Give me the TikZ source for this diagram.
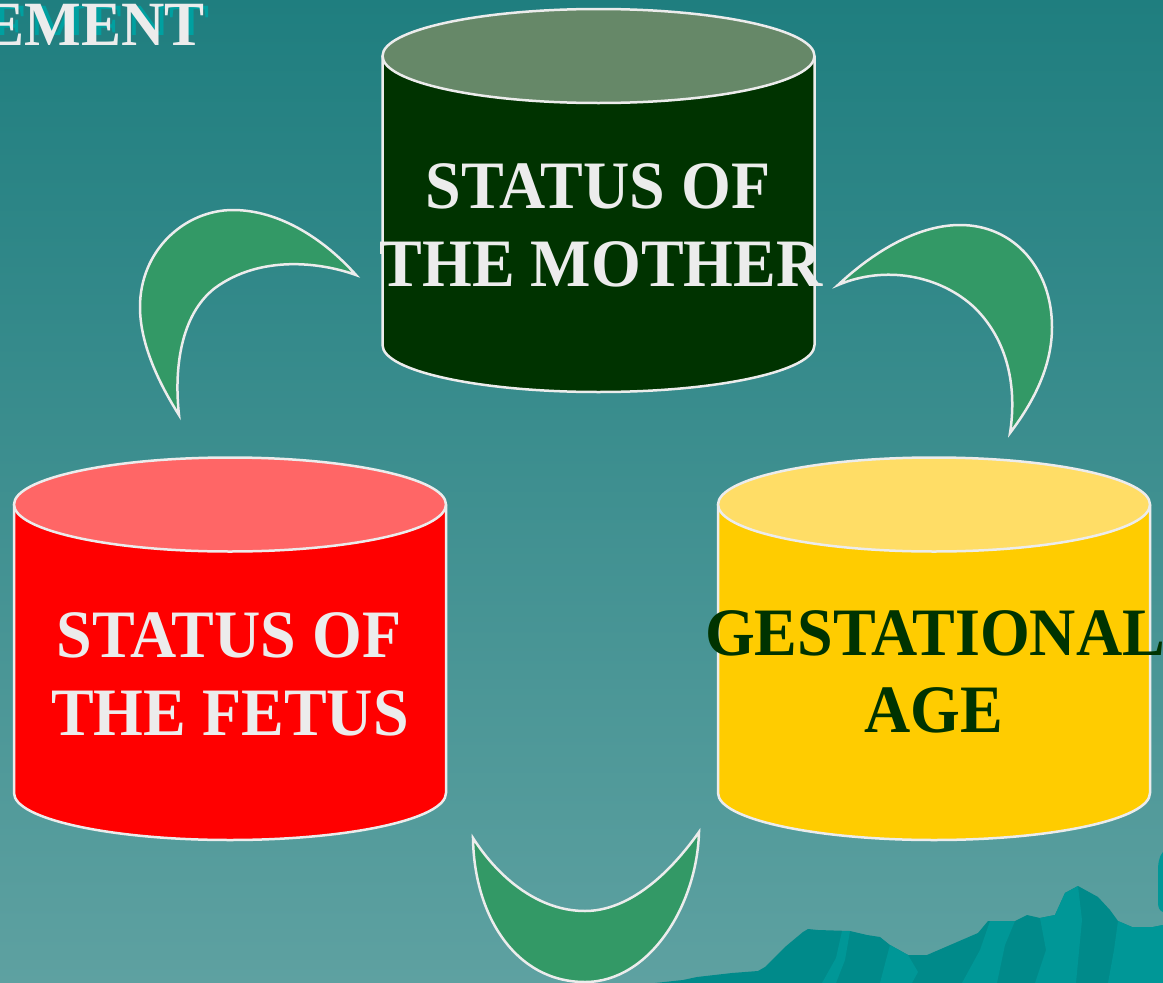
\documentclass[tikz,border=0pt]{standalone}
\usepackage{fontspec}
\setmainfont{Liberation Serif}
\definecolor{edge}{RGB}{236,236,236}
\definecolor{txtw}{RGB}{236,236,236}
\definecolor{dgreen}{RGB}{0,51,0}
\definecolor{mtop}{RGB}{102,136,104}
\definecolor{ftop}{RGB}{255,102,102}
\definecolor{fbody}{RGB}{255,0,0}
\definecolor{gtop}{RGB}{255,221,102}
\definecolor{gbody}{RGB}{255,204,0}
\definecolor{cgreen}{RGB}{51,153,102}
\definecolor{bgtop}{RGB}{31,126,127}
\definecolor{bgbot}{RGB}{94,161,161}
\definecolor{mtdark}{RGB}{0,138,138}
\definecolor{mtlight}{RGB}{0,151,151}
\definecolor{shadowteal}{RGB}{0,160,160}
\tikzset{
  lbl/.style={anchor=base, inner sep=0pt, font=\bfseries\fontsize{64}{70}\selectfont},
  rim/.style={draw=edge, line width=2.5pt},
  crescent/.style={fill=cgreen, draw=edge, line width=2.5pt},
}
\newcommand\drawcyl[5]{%
  \fill[#4] (#1-216,#2) rectangle (#1+216,#3);
  \fill[#4] (#1,#3) ellipse[x radius=216pt, y radius=47pt];
  \draw[rim] (#1-216,#2) -- (#1-216,#3) arc[start angle=180, end angle=360, x radius=216pt, y radius=47pt] -- (#1+216,#2);
  \filldraw[rim, fill=#5] (#1,#2) ellipse[x radius=216pt, y radius=47pt];
}
\begin{document}
\begin{tikzpicture}[x=1pt, y=-1pt]
\useasboundingbox (0,0) rectangle (1163,983);
\shade[top color=bgtop, bottom color=bgbot] (0,0) rectangle (1163,983);

% mountains bottom right
\fill[mtdark] (655,983) -- (683,980) -- (697,977) -- (732,973) -- (758,971) -- (765,967) -- (785,947) -- (803,932) -- (808,929) -- (818,930) -- (850,931) -- (867,935) -- (880,937) -- (890,945) -- (908,955) -- (927,955) -- (978,933) -- (988,921) -- (1015,921) -- (1027,915) -- (1040,918) -- (1055,915) -- (1065,893) -- (1078,886) -- (1098,897) -- (1110,910) -- (1118,921) -- (1132,927) -- (1153,927) -- (1163,925) -- (1163,983) -- cycle;
\fill[mtlight] (842,931) -- (850,931) -- (845,960) -- (836,983) -- (822,983) -- (836,958) -- cycle;
\fill[mtlight] (890,945) -- (908,955) -- (918,972) -- (912,983) -- (880,983) -- (886,960) -- cycle;
\fill[mtlight] (990,921) -- (1015,921) -- (1005,945) -- (997,983) -- (962,983) -- (980,950) -- cycle;
\fill[mtlight] (1040,918) -- (1055,915) -- (1065,893) -- (1078,886) -- (1082,920) -- (1076,983) -- (1035,983) -- (1046,950) -- cycle;
\fill[mtlight] (1118,921) -- (1132,927) -- (1153,927) -- (1163,925) -- (1163,983) -- (1108,983) -- (1114,950) -- cycle;
\fill[mtlight] (1163,852) .. controls (1158,858) and (1158,865) .. (1158,875) -- (1158,903) .. controls (1158,908) and (1160,911) .. (1163,912) -- cycle;

% title fragment
\begin{scope}
  \clip (0,0) rectangle (300,34);
  \node[lbl, anchor=base east, text=shadowteal, font=\bfseries\fontsize{60}{62}\selectfont] (titleshadow) at (210,47) {\scalebox{1}[1.05]{EMENT}};
\end{scope}
\node[lbl, anchor=base east, text=txtw, font=\bfseries\fontsize{60}{62}\selectfont] (title) at (205,45) {\scalebox{1}[1.05]{EMENT}};

% cylinders
\drawcyl{598.5}{56}{345}{dgreen}{mtop}
\drawcyl{230}{504.5}{793}{fbody}{ftop}
\drawcyl{934}{504.5}{793}{gbody}{gtop}

% crescents
\filldraw[crescent] (179,415) .. controls (160,385) and (140,345) .. (140,307)
  .. controls (140,250) and (185,210) .. (233,210)
  .. controls (280,210) and (325,240) .. (356,275)
  .. controls (320,262) and (260,255) .. (215,288)
  .. controls (180,315) and (174,370) .. (179,415) -- cycle;
\filldraw[crescent] (838,285) .. controls (870,255) and (915,225) .. (960,225)
  .. controls (1015,225) and (1052,270) .. (1052,327)
  .. controls (1052,365) and (1035,400) .. (1010,433)
  .. controls (1016,395) and (1012,345) .. (975,308)
  .. controls (940,275) and (885,265) .. (838,285) -- cycle;
\filldraw[crescent] (473,838) .. controls (474,915) and (515,982) .. (585,982)
  .. controls (650,982) and (697,905) .. (699,832)
  .. controls (665,880) and (625,911) .. (585,911)
  .. controls (540,911) and (500,880) .. (473,838) -- cycle;

% labels
\node[lbl, text=txtw] (m1) at (598,208) {\scalebox{1}[1.06]{STATUS OF}};
\node[lbl, text=txtw] (m2) at (601,286) {\scalebox{1}[1.06]{THE MOTHER}};
\node[lbl, text=txtw] (f1) at (229,657) {\scalebox{1}[1.06]{STATUS OF}};
\node[lbl, text=txtw] (f2) at (230,735) {\scalebox{1}[1.06]{THE FETUS}};
\node[lbl, text=dgreen] (g1) at (935,655) {\scalebox{1}[1.06]{GESTATIONAL}};
\node[lbl, text=dgreen] (g2) at (934,732) {\scalebox{1}[1.06]{AGE}};
\end{tikzpicture}
\end{document}
